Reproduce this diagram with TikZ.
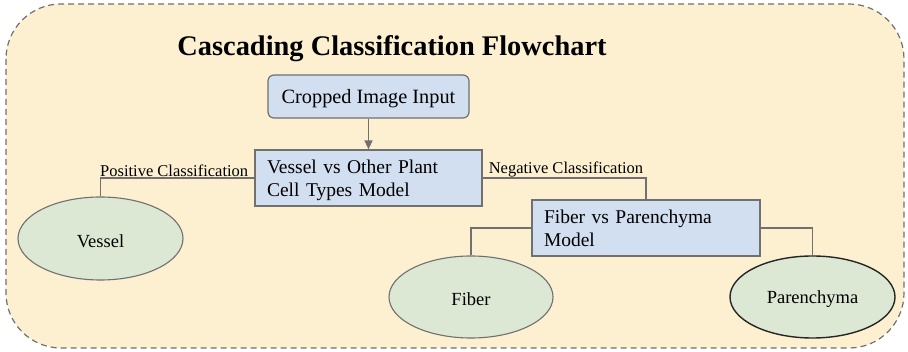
\documentclass[tikz,border=0pt]{standalone}
\usepackage{fontspec}
\setmainfont{Liberation Serif}
\usetikzlibrary{arrows.meta,shapes.geometric}
\definecolor{bgyellow}{HTML}{FCF0D0}
\definecolor{boxblue}{HTML}{D2DFF0}
\definecolor{ellgreen}{HTML}{DCE8D4}
\definecolor{linegray}{HTML}{707070}
\newcommand{\lowr}[1]{\raisebox{-2.5pt}[\height][\depth]{#1}}
\newcommand{\twolines}[2]{\lowr{\begin{tabular}{@{}l@{}}#1\\#2\end{tabular}}}
\begin{document}
\begin{tikzpicture}[x=1pt,y=1pt,
  modelbox/.style={draw=linegray, line width=1.2pt, fill=boxblue, rectangle,
    minimum width=#1, minimum height=56pt, inner xsep=12pt, inner ysep=4pt,
    align=left, font=\fontsize{19.5}{23.5}\selectfont},
  classell/.style={ellipse, draw=linegray, line width=1.1pt, fill=ellgreen,
    minimum width=165pt, minimum height=83pt, inner sep=0pt,
    font=\fontsize{18.5}{21}\selectfont},
  conn/.style={draw=linegray, line width=1.3pt},
  edgelabel/.style={inner sep=1pt, font=\fontsize{16.5}{19}\selectfont}
]
\useasboundingbox (0,0) rectangle (908,-352);
\draw[draw=linegray, line width=1.2pt, dash pattern=on 6pt off 4pt, fill=bgyellow,
  rounded corners=55pt] (6,-4) rectangle (904,-348);

\node (title) at (392,-46) {\fontsize{28.4}{32}\selectfont\bfseries\lowr{Cascading Classification Flowchart}};

\node[draw=linegray, line width=1.2pt, fill=boxblue, rounded corners=6pt,
  minimum width=201pt, minimum height=43pt, font=\fontsize{20.3}{23}\selectfont]
  (input) at (368.5,-96.5) {\lowr{Cropped Image Input}};

\node[modelbox=227pt, text width=203pt] (vmodel) at (368.5,-178) {\twolines{Vessel vs Other Plant}{Cell Types Model}};
\node[modelbox=228pt, text width=204pt] (fmodel) at (646,-228) {\twolines{Fiber vs Parenchyma}{Model}};

\node[classell] (vessel) at (100.5,-238.5) {\lowr{Vessel}};
\node[classell, minimum width=164pt, minimum height=82pt] (fiber) at (471,-297) {\lowr{Fiber}};
\node[classell, draw=black!85, line width=1.4pt, minimum height=82pt] (paren) at (812.5,-297) {\lowr{Parenchyma}};

\draw[conn, -{Triangle[length=9pt,width=8pt]}, fill=linegray] (input) -- (vmodel);
\draw[conn] (vmodel.west) -| (vessel.north);
\draw[conn] (vmodel.east) -| (fmodel.north);
\draw[conn] (fmodel.west) -| (fiber.north);
\draw[conn] (fmodel.east) -| (paren.north);

\node[edgelabel, anchor=south east] (poslabel) at ([xshift=-5pt,yshift=0pt]vmodel.west) {Positive Classification};
\node[edgelabel, anchor=south west] (neglabel) at ([xshift=5pt,yshift=0pt]vmodel.east) {Negative Classification};
\end{tikzpicture}
\end{document}
